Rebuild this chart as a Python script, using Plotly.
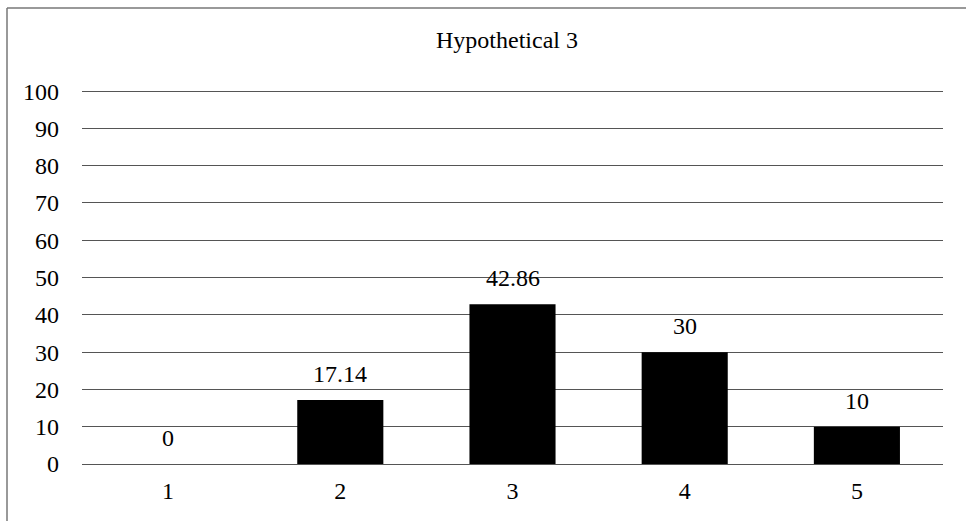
import plotly.graph_objects as go

categories = ["1", "2", "3", "4", "5"]
values = [0, 17.14, 42.86, 30, 10]
labels = ["0", "17.14", "42.86", "30", "10"]
title = "Hypothetical 3"

L, R, T, B = 82, 23, 90, 57
W, H = 966, 521
pw, ph = W - L - R, H - T - B
FONT = "Liberation Serif"
FS = 24

fig = go.Figure(go.Bar(
    x=categories, y=values,
    marker=dict(color="#000000", line=dict(width=0)),
    width=0.5,
))

# on a category axis, annotation x is the category index
for i, (v, t) in enumerate(zip(values, labels)):
    fig.add_annotation(x=i, y=v, text=t, showarrow=False, yanchor="bottom",
                       yshift=11, font=dict(family=FONT, size=FS, color="#000000"))

def px_x(p):
    return (p - L) / pw

def px_y(p):
    return (H - B - p) / ph

fig.update_layout(
    width=W, height=H,
    margin=dict(l=L, r=R, t=T, b=B),
    paper_bgcolor="white", plot_bgcolor="white",
    font=dict(family=FONT, size=FS, color="#000000"),
    title=dict(text=title, x=507 / W, xanchor="center", y=1 - 40 / H, yanchor="middle",
               font=dict(family=FONT, size=FS, color="#000000")),
    showlegend=False,
    xaxis=dict(type="category", range=[-0.5, 4.5], showgrid=False, showline=False, ticks="",
               tickfont=dict(size=FS), ticklabelstandoff=10),
    yaxis=dict(range=[0, 100.3], dtick=10, showgrid=True, gridcolor="#555555", gridwidth=1.3,
               zeroline=True, zerolinecolor="#555555", zerolinewidth=1.3,
               showline=False, ticks="", tickfont=dict(size=FS), ticklabelstandoff=22),
    shapes=[
        dict(type="line", xref="paper", yref="paper", x0=px_x(7), x1=px_x(7),
             y0=px_y(8), y1=px_y(521), line=dict(color="#777777", width=1.5)),
        dict(type="line", xref="paper", yref="paper", x0=px_x(7), x1=px_x(966),
             y0=px_y(8), y1=px_y(8), line=dict(color="#777777", width=1.5)),
    ],
)

fig.write_html("out.html", config={"displayModeBar": False},
               post_script="document.body.style.margin='0';")
